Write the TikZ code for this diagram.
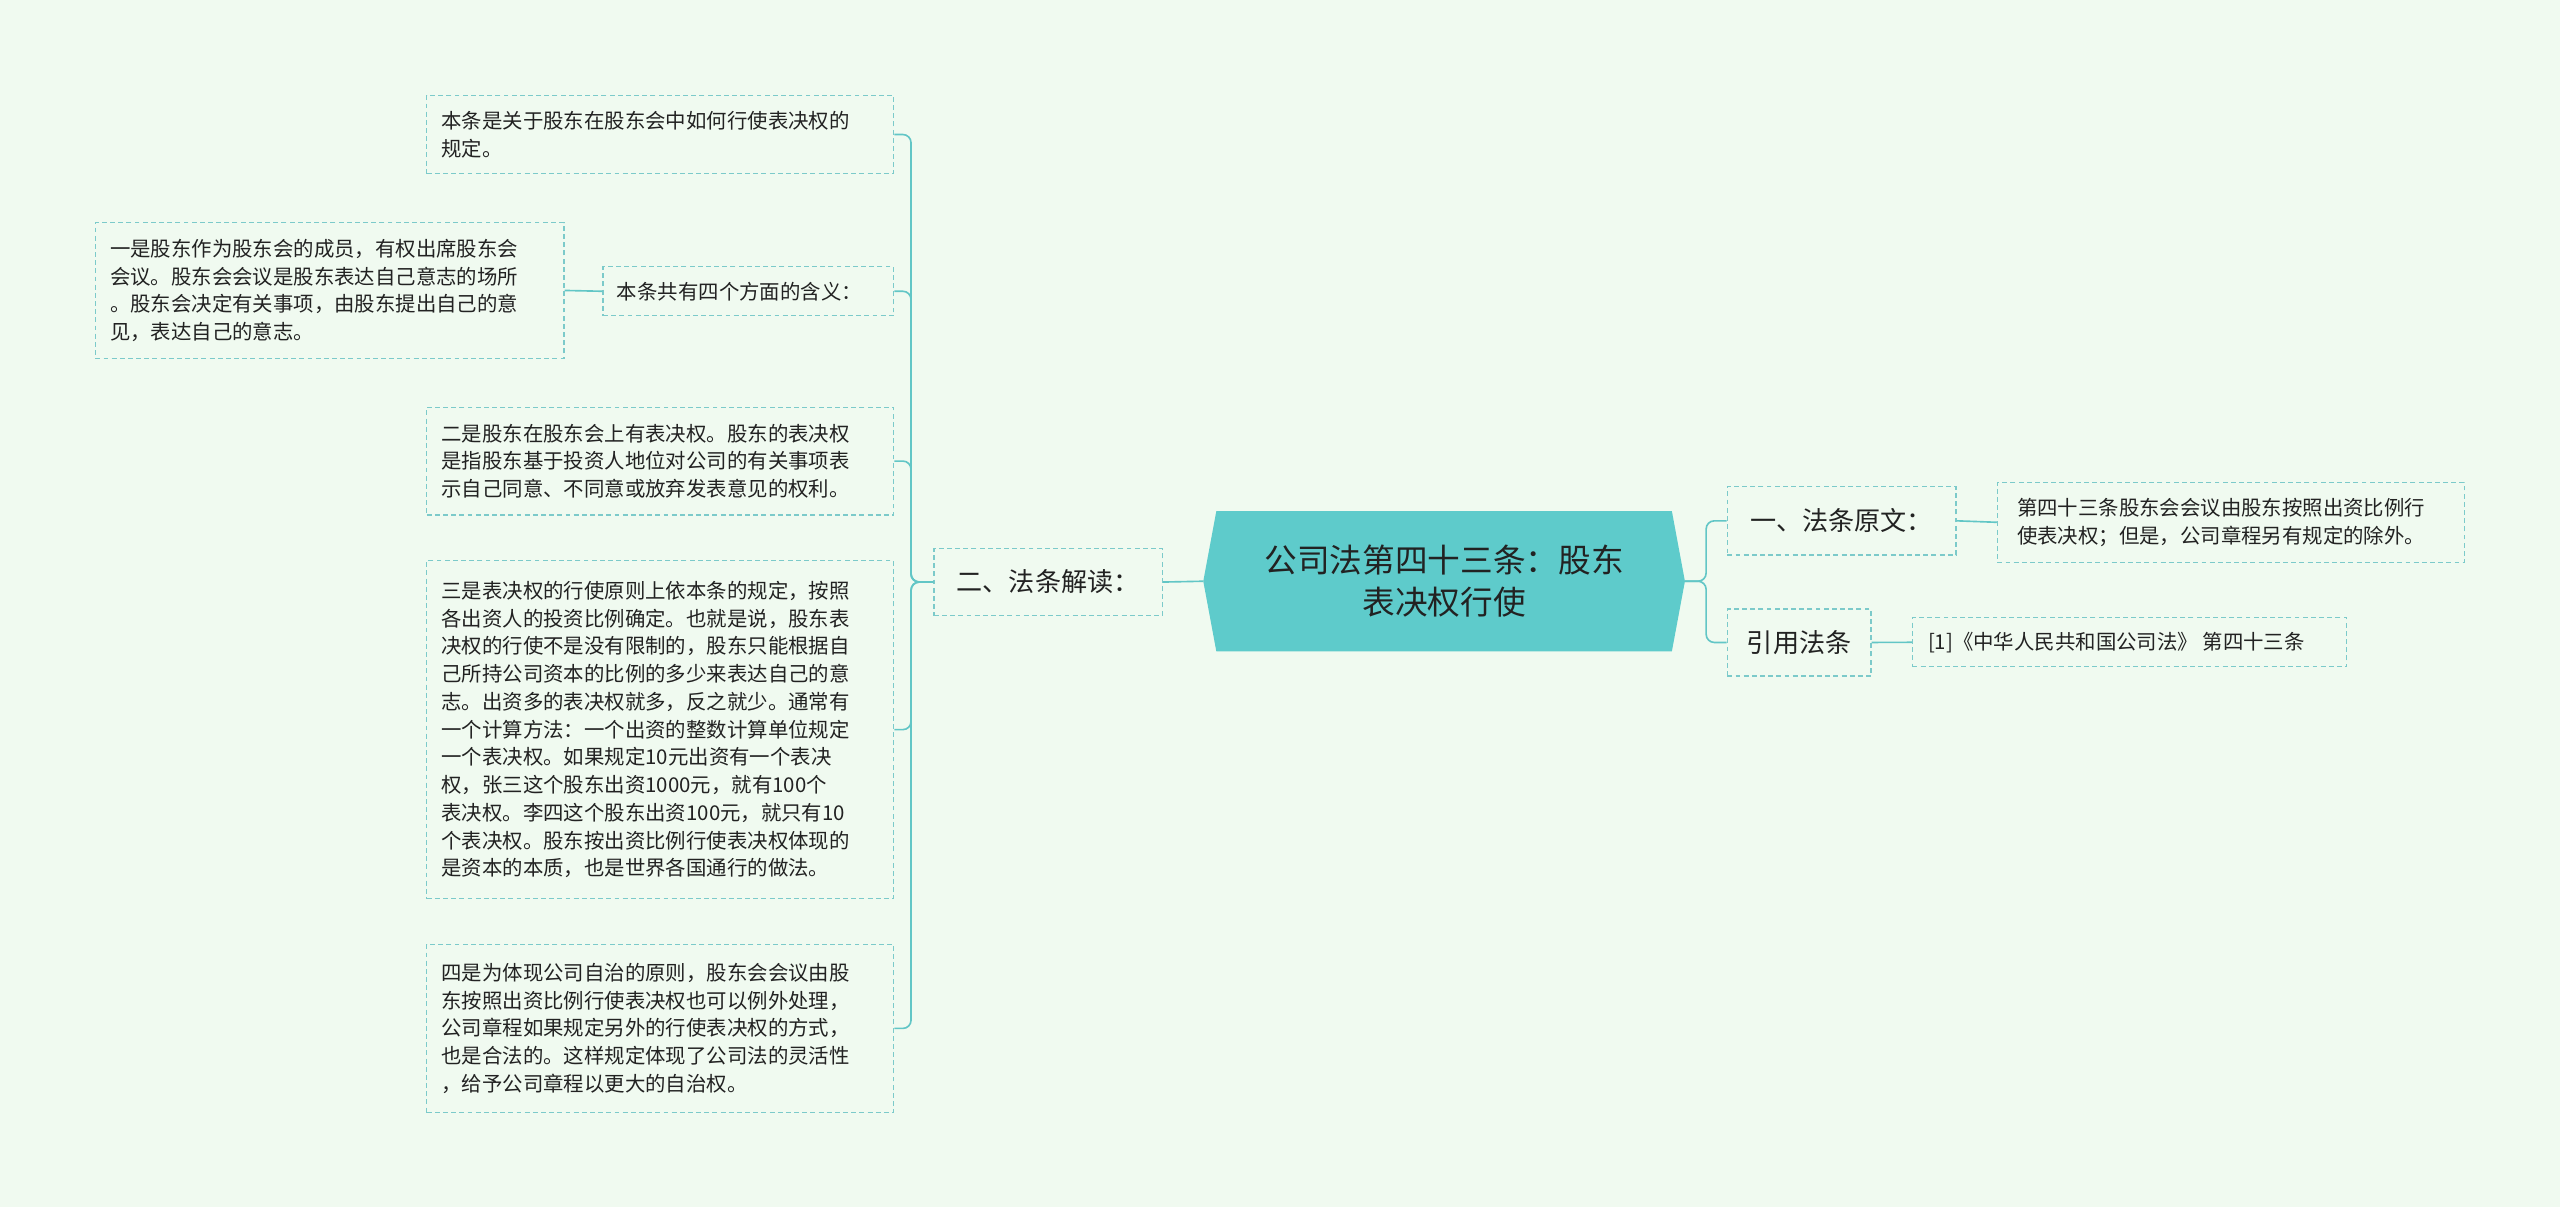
\documentclass[tikz,border=0pt]{standalone}
\usepackage{fontspec}
\setmainfont{Noto Sans CJK SC}
\definecolor{bg}{HTML}{F0FAF0}
\definecolor{ln}{HTML}{62C6C6}
\definecolor{bd}{HTML}{7CCACA}
\definecolor{hub}{HTML}{5ECBCB}
\definecolor{tx}{HTML}{222222}
\begin{document}
\begin{tikzpicture}[x=1pt,y=-1pt,
  box/.style={draw=bd,dashed,dash pattern=on 3pt off 2pt,line width=0.8pt,text=tx,font=\fontsize{12.5}{17}\selectfont,align=left,anchor=north west,inner sep=0pt},
  lbl/.style={draw=bd,dashed,dash pattern=on 3pt off 2pt,line width=0.8pt,text=tx,font=\fontsize{16}{20}\selectfont,inner sep=0pt},
  con/.style={draw=ln,line width=1pt,rounded corners=5pt}]
\fill[bg] (0,0) rectangle (1568,739);
\useasboundingbox (0,0) rectangle (1568,739);
% hub
\fill[hub] (745,313) -- (1024,313) -- (1032,356) -- (1024,399) -- (745,399) -- (737,356) -- cycle;
\node[text=tx,font=\fontsize{20}{26}\selectfont,align=center] (hub) at (884.5,356) {公司法第四十三条：股东\\表决权行使};
\coordinate (hubL) at (737,356);
\coordinate (hubR) at (1032,356);
% level 1
\node[lbl,minimum width=140pt,minimum height=41pt] (jd) at (642,356.5) {二、法条解读：};
\node[lbl,minimum width=140pt,minimum height=42pt] (yw) at (1128,319) {一、法条原文：};
\node[lbl,minimum width=88pt,minimum height=41pt] (yy) at (1102,393.5) {引用法条};
% right leaves
\node[box,minimum width=286pt,minimum height=49pt,text width=276pt] (r1) at (1223,295) {\hspace*{7pt}\begin{minipage}[c][49pt]{272pt}第四十三条股东会会议由股东按照出资比例行\\使表决权；但是，公司章程另有规定的除外。\end{minipage}};
\node[box,minimum width=266pt,minimum height=30pt] (r2) at (1171,378) {\hspace*{8pt}\begin{minipage}[c][30pt]{255pt}[1]《中华人民共和国公司法》 第四十三条\end{minipage}};
% left leaves
\node[box,minimum width=286pt,minimum height=48pt] (b1) at (261,58) {\hspace*{7pt}\begin{minipage}[c][48pt]{275pt}本条是关于股东在股东会中如何行使表决权的\\规定。\end{minipage}};
\node[box,minimum width=178pt,minimum height=30pt] (b2) at (369,163) {\hspace*{7pt}\begin{minipage}[c][30pt]{168pt}本条共有四个方面的含义：\end{minipage}};
\node[box,minimum width=287pt,minimum height=83pt] (b0) at (58,136) {\hspace*{7pt}\begin{minipage}[c][83pt]{276pt}一是股东作为股东会的成员，有权出席股东会\\会议。股东会会议是股东表达自己意志的场所\\。股东会决定有关事项，由股东提出自己的意\\见，表达自己的意志。\end{minipage}};
\node[box,minimum width=286pt,minimum height=66pt] (b3) at (261,249) {\hspace*{7pt}\begin{minipage}[c][66pt]{275pt}二是股东在股东会上有表决权。股东的表决权\\是指股东基于投资人地位对公司的有关事项表\\示自己同意、不同意或放弃发表意见的权利。\end{minipage}};
\node[box,minimum width=286pt,minimum height=207pt] (b4) at (261,343) {\hspace*{7pt}\begin{minipage}[c][207pt]{275pt}三是表决权的行使原则上依本条的规定，按照\\各出资人的投资比例确定。也就是说，股东表\\决权的行使不是没有限制的，股东只能根据自\\己所持公司资本的比例的多少来表达自己的意\\志。出资多的表决权就多，反之就少。通常有\\一个计算方法：一个出资的整数计算单位规定\\一个表决权。如果规定10元出资有一个表决\\权，张三这个股东出资1000元，就有100个\\表决权。李四这个股东出资100元，就只有10\\个表决权。股东按出资比例行使表决权体现的\\是资本的本质，也是世界各国通行的做法。\end{minipage}};
\node[box,minimum width=286pt,minimum height=103pt] (b5) at (261,578) {\hspace*{7pt}\begin{minipage}[c][103pt]{275pt}四是为体现公司自治的原则，股东会会议由股\\东按照出资比例行使表决权也可以例外处理，\\公司章程如果规定另外的行使表决权的方式，\\也是合法的。这样规定体现了公司法的灵活性\\，给予公司章程以更大的自治权。\end{minipage}};
% connectors
\draw[con] (hubL) -- (jd.east);
\draw[con] (jd.west) -- (558,356.5) |- (b1.east);
\draw[con] (jd.west) -- (558,356.5) |- (b2.east);
\draw[con] (jd.west) -- (558,356.5) |- (b3.east);
\draw[con] (jd.west) -- (558,356.5) |- (b4.east);
\draw[con] (jd.west) -- (558,356.5) |- (b5.east);
\draw[con] (b2.west) -- (b0.east);
\draw[con] (hubR) -- (1045,356) |- (yw.west);
\draw[con] (hubR) -- (1045,356) |- (yy.west);
\draw[con] (yw.east) -- (r1.west);
\draw[con] (yy.east) -- (r2.west);
\end{tikzpicture}
\end{document}
